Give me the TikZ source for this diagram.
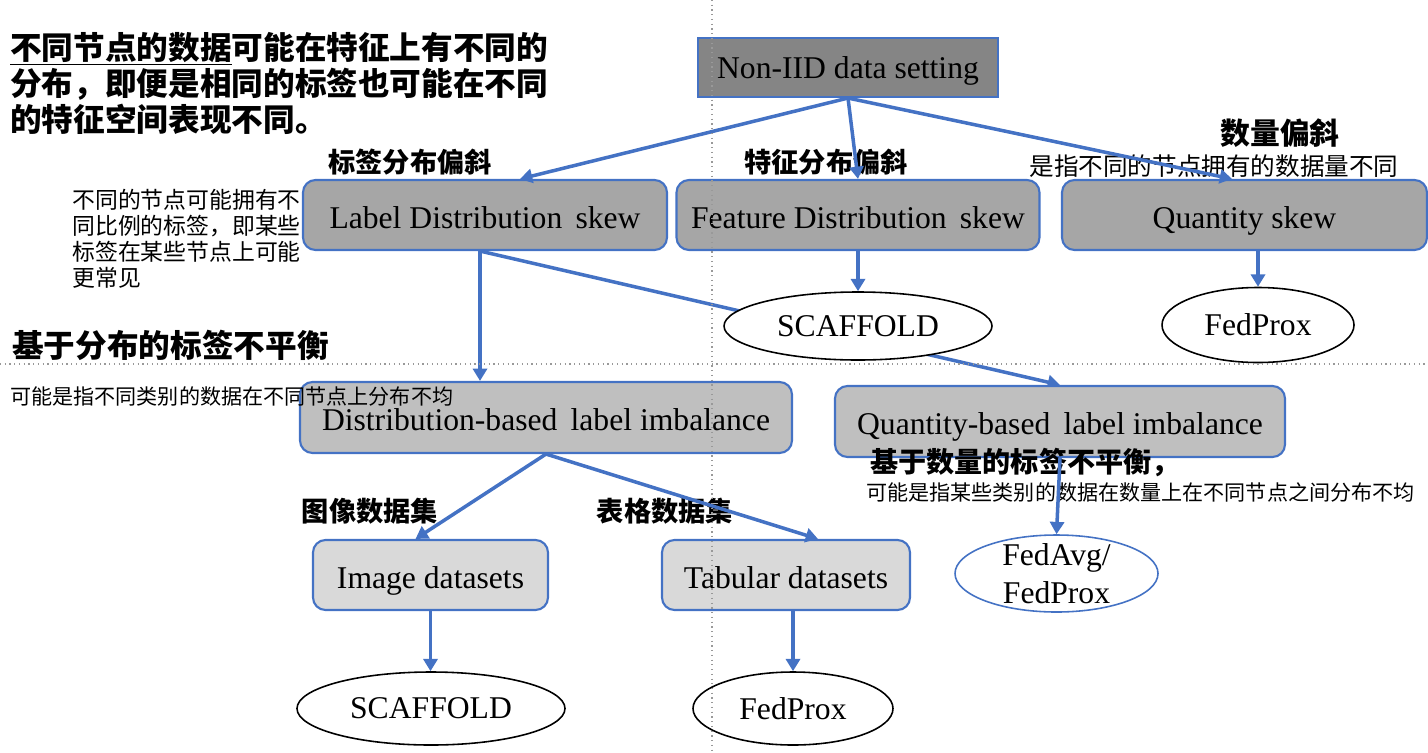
\documentclass[tikz,border=0pt]{standalone}
\usepackage{fontspec}
\setmainfont{Liberation Serif}
\newfontfamily\cjk{Noto Sans CJK SC}
\usepackage{tikz}
\usetikzlibrary{shapes, shapes.geometric, arrows.meta, positioning, backgrounds}

\definecolor{boxblue}{HTML}{4472C4}
\definecolor{rootgray}{HTML}{858585}
\definecolor{skewgray}{HTML}{A6A6A6}
\definecolor{imbgray}{HTML}{BFBFBF}
\definecolor{setgray}{HTML}{D9D9D9}

\begin{document}
\begin{tikzpicture}[%
        rootbox/.style={rectangle, draw=boxblue, line width=1.2pt, fill=rootgray, minimum width=6cm, minimum height=1.18cm, text height=13pt, text depth=1pt, font=\fontsize{18}{20}\selectfont},
        skewbox/.style={rectangle, draw=boxblue, line width=1.2pt, fill=skewgray, rounded corners=0.25cm, minimum height=1.4cm, text height=16pt, text depth=1.2pt, font=\fontsize{18}{20}\selectfont},
        imbbox/.style={skewbox, fill=imbgray},
        setbox/.style={skewbox, fill=setgray},
        method/.style={ellipse, draw=black, line width=0.9pt, fill=white, inner sep=0pt, font=\fontsize{18}{20}\selectfont},
        head/.style={font=\cjk\bfseries\fontsize{#1}{#1}\selectfont, inner sep=0pt},
        note/.style={font=\cjk\fontsize{#1}{#1}\selectfont, inner sep=0pt},
        arrow/.style={-{Triangle[length=7pt,width=8pt]}, line width=2pt, boxblue},
        guide/.style={gray!80, dotted, line width=0.7pt}%
    ]
        \useasboundingbox (0,0) rectangle (28.56,-15.04);

        % notes
        \node[note=18, anchor=west, align=left, font=\cjk\bfseries\fontsize{18}{20.7}\selectfont] (intro) at (0.2,-1.67)
            {\underline{不同节点的数据}可能在特征上有不同的\\分布，即便是相同的标签也可能在不同\\的特征空间表现不同。};
        \node[note=13, anchor=west, align=left, font=\cjk\fontsize{13}{14.7}\selectfont] (labelnote) at (1.44,-4.78)
            {不同的节点可能拥有不\\同比例的标签，即某些\\标签在某些节点上可能\\更常见};
        \node[head=15.5] (labelhead) at (8.2,-3.24) {标签分布偏斜};
        \node[head=15.5] (feathead) at (16.52,-3.24) {特征分布偏斜};
        \node[head=17] (quanthead) at (25.6,-2.66) {数量偏斜};
        \node[note=14] (quantnote) at (24.28,-3.32) {是指不同的节点拥有的数据量不同};
        \node[head=18, anchor=west] (disthead) at (0.24,-6.9) {基于分布的标签不平衡};

        % nodes
        \node[rootbox] (root) at (16.96,-1.35) {Non-IID data setting};
        \node[skewbox, minimum width=7.28cm] (label) at (9.70,-4.30) {Label Distribution\, skew};
        \node[skewbox, minimum width=7.26cm] (feature) at (17.16,-4.30) {Feature Distribution\, skew};
        \node[skewbox, minimum width=7.30cm] (quantity) at (24.89,-4.30) {Quantity skew};

        \node[method, minimum width=5.36cm, minimum height=1.36cm] (scaf1) at (17.16,-6.52) {SCAFFOLD};
        \node[method, minimum width=3.84cm, minimum height=1.50cm] (prox1) at (25.16,-6.50) {FedProx};

        \node[imbbox, minimum width=9.84cm, minimum height=1.42cm] (dist) at (10.92,-8.35) {Distribution-based\, label imbalance};
        \node[imbbox, minimum width=9.00cm, minimum height=1.42cm] (quantlabel) at (21.20,-8.43) {Quantity-based\, label imbalance};

        \node[setbox, minimum width=4.70cm] (image) at (8.61,-11.50) {Image datasets};
        \node[setbox, minimum width=4.96cm] (tabular) at (15.72,-11.50) {Tabular datasets};

        \node[method, minimum width=5.36cm, minimum height=1.46cm] (scaf2) at (8.62,-14.17) {SCAFFOLD};
        \node[method, minimum width=4.00cm, minimum height=1.46cm] (prox2) at (15.86,-14.17) {FedProx};
        \node[method, draw=boxblue, minimum width=4.06cm, minimum height=1.54cm] (fedavg) at (21.13,-11.47) {};
        \node[align=center, font=\fontsize{18}{21.5}\selectfont, inner sep=0pt] (fedavgtext) at (fedavg.center) {FedAvg/\\FedProx};

        \node[note=12, anchor=west] (distnote) at (0.2,-7.92) {可能是指不同类别的数据在不同节点上分布不均};
        \node[head=16, anchor=west] (quantlhead) at (17.4,-9.26) {基于数量的标签不平衡，};
        \node[note=12, anchor=west] (quantlnote) at (17.32,-9.84) {可能是指某些类别的数据在数量上在不同节点之间分布不均};
        \node[head=15.5] (imagehead) at (7.4,-10.22) {图像数据集};
        \node[head=15.5] (tabhead) at (13.3,-10.22) {表格数据集};

        % connectors
        \begin{scope}[on background layer]
            \draw[arrow] ([xshift=-0.1cm]label.south) -- (quantlabel.north);
        \end{scope}
        \draw[arrow] (root.south) -- ([xshift=0.7cm]label.north);
        \draw[arrow] (root.south) -- (feature.north);
        \draw[arrow] (root.south) -- ([xshift=-0.25cm]quantity.north);

        \draw[arrow] ([xshift=-0.1cm]label.south) -- ([xshift=-0.1cm]label.south |- dist.north);
        \draw[arrow] (feature.south) -- (scaf1.north);
        \draw[arrow] (quantity.south -| prox1.north) -- (prox1.north);

        \draw[arrow] (dist.south) -- ([xshift=-0.3cm]image.north);
        \draw[arrow] (dist.south) -- ([xshift=0.64cm]tabular.north);
        \draw[arrow] (quantlabel.south) -- (fedavg.north);

        \draw[arrow] (image.south) -- (image.south |- scaf2.north);
        \draw[arrow] (tabular.south -| prox2.north) -- (prox2.north);

        % guides
        \draw[guide] (14.24,0) -- (14.24,-15.04);
        \draw[guide] (0,-7.28) -- (28.56,-7.28);
    \end{tikzpicture}
\end{document}
